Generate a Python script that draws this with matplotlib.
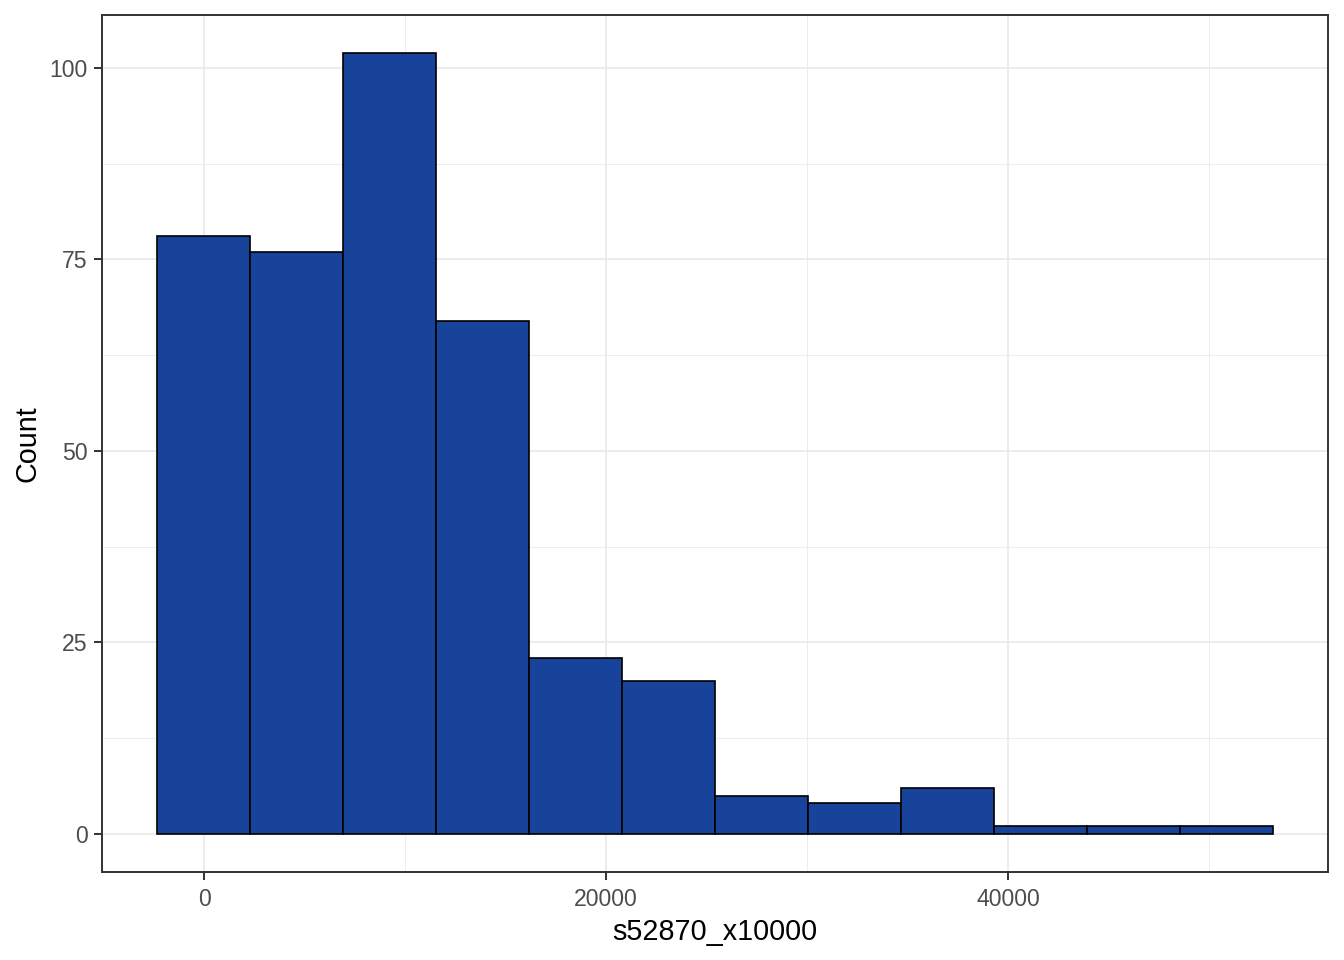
import matplotlib.pyplot as plt
import numpy as np

# histogram data
bin_edges = [-2338, 2289, 6915, 11542, 16169, 20796, 25423,
             30050, 34676, 39303, 43930, 48556, 53183]
counts = [78, 76, 102, 67, 23, 20, 5, 4, 6, 1, 1, 1]
x_ticks = [0, 20000, 40000]
x_minor = [10000, 30000, 50000]
y_ticks = [0, 25, 50, 75, 100]
y_minor = [12.5, 37.5, 62.5, 87.5]

plt.rcParams['font.family'] = ['Liberation Sans', 'DejaVu Sans']

fig = plt.figure(figsize=(13.44, 9.6), dpi=100)
ax = fig.add_axes([102 / 1344, 1 - 872 / 960, (1328 - 102) / 1344, (872 - 15) / 960])

edges = np.array(bin_edges)
ax.bar(edges[:-1], counts, width=np.diff(edges), align='edge',
       color='#17439B', edgecolor='black', linewidth=1.2, zorder=3)

ax.set_xlim(-5075, 55919)
ax.set_ylim(-4.96, 106.9)

ax.set_xticks(x_ticks)
ax.set_xticklabels([str(t) for t in x_ticks])
ax.set_xticks(x_minor, minor=True)
ax.set_yticks(y_ticks)
ax.set_yticks(y_minor, minor=True)

ax.grid(True, which='major', color='#EBEBEB', linewidth=1.3, zorder=0)
ax.grid(True, which='minor', color='#EBEBEB', linewidth=0.65, zorder=0)
ax.set_axisbelow(True)

ax.tick_params(which='major', length=5.7, width=1.4, color='#333333',
               labelcolor='#4D4D4D', labelsize=16.6)
ax.tick_params(axis='x', which='major', pad=6)
ax.tick_params(axis='y', which='major', pad=4.5)
ax.tick_params(which='minor', length=0)

for s in ax.spines.values():
    s.set_color('#333333')
    s.set_linewidth(1.4)

ax.set_xlabel('s52870_x10000', fontsize=20.7, color='black', labelpad=4.5)
ax.set_ylabel('Count', fontsize=20.7, color='black', labelpad=6)

fig.savefig('out.png', dpi=100, facecolor='white')
